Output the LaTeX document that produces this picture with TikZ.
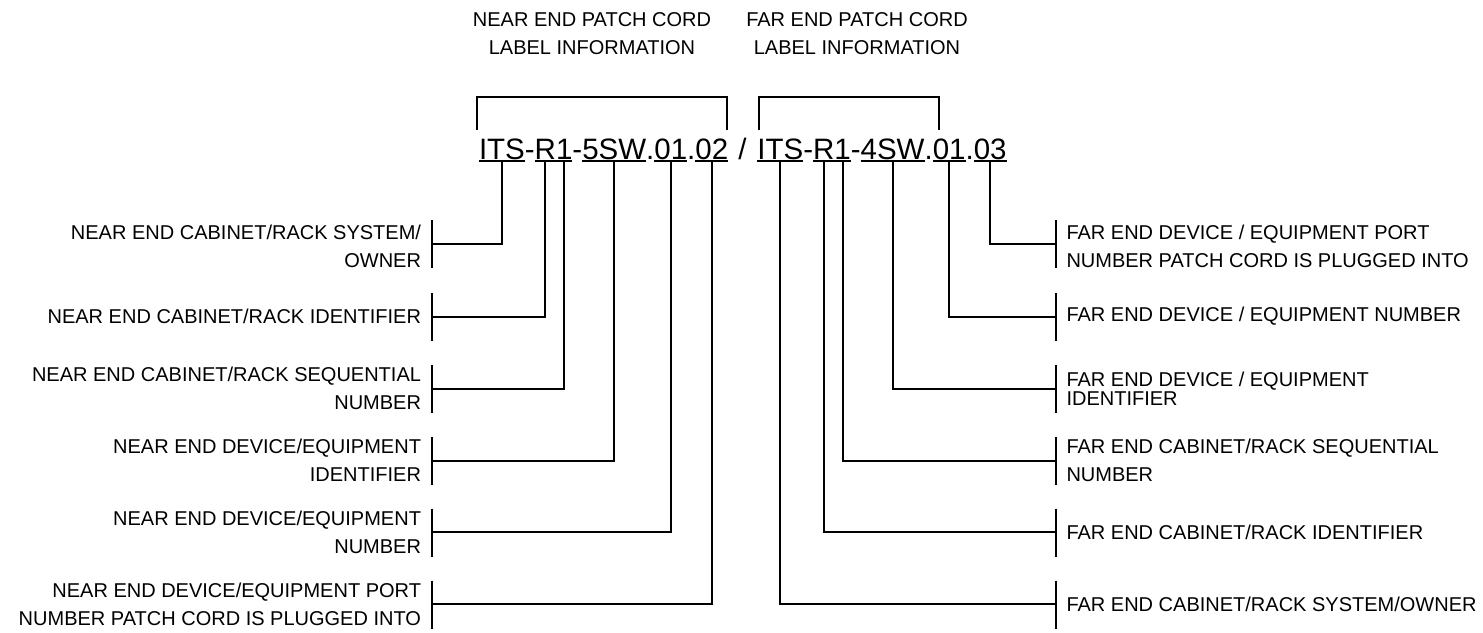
\documentclass[tikz,border=0pt]{standalone}
\usepackage{fontspec}
\setmainfont{Liberation Sans}
\newcommand\codefont{\fontsize{29.5}{35}\selectfont}
\newcommand\lblfont{\fontsize{20}{28}\selectfont}
\newcommand\tightfont{\fontsize{20}{19}\selectfont}
\begin{document}
\begin{tikzpicture}[x=1pt,y=-1pt,line width=2pt,
  seg/.style={inner sep=0pt,outer sep=0pt,anchor=base west,font=\codefont},
  lbl/.style={inner sep=0pt,outer sep=0pt,font=\lblfont,align=right,anchor=east},
  rlbl/.style={inner sep=0pt,outer sep=0pt,font=\lblfont,align=left,anchor=west},
  ttl/.style={inner sep=0pt,outer sep=0pt,font=\lblfont,align=center},
  wire/.style={line width=2pt},
  uline/.style={line width=2pt}]
\useasboundingbox (0,0) rectangle (1483,632);

% titles
\node[ttl] (t1) at (592,34) {NEAR END PATCH CORD\\LABEL INFORMATION};
\node[ttl] (t2) at (857,34) {FAR END PATCH CORD\\LABEL INFORMATION};

% near-end code
\node[seg] (a1) at (479,159) {ITS};
\node[seg] (a1d) at (a1.base east) {-};
\node[seg] (a2) at (a1d.base east) {R};
\node[seg] (a3) at (a2.base east) {1};
\node[seg] (a3d) at (a3.base east) {-};
\node[seg] (a4) at (a3d.base east) {5SW};
\node[seg] (a4d) at (a4.base east) {.};
\node[seg] (a5) at (a4d.base east) {01};
\node[seg] (a5d) at (a5.base east) {.};
\node[seg] (a6) at (a5d.base east) {02};

\node[font=\codefont,inner sep=0pt,anchor=base] (sl) at (742.5,159) {/};

% far-end code
\node[seg] (b1) at (757.4,159) {ITS};
\node[seg] (b1d) at (b1.base east) {-};
\node[seg] (b2) at (b1d.base east) {R};
\node[seg] (b3) at (b2.base east) {1};
\node[seg] (b3d) at (b3.base east) {-};
\node[seg] (b4) at (b3d.base east) {4SW};
\node[seg] (b4d) at (b4.base east) {.};
\node[seg] (b5) at (b4d.base east) {01};
\node[seg] (b5d) at (b5.base east) {.};
\node[seg] (b6) at (b5d.base east) {03};

\foreach \n in {a1,a2,a3,a4,a5,a6,b1,b2,b3,b4,b5,b6}
  \draw[uline] ([yshift=-2pt]\n.base west) -- ([yshift=-2pt]\n.base east);

% top brackets
\coordinate (tl1) at (477.3,130);
\coordinate (tl2) at (726.7,97.3);
\coordinate (tr1) at (759.3,130);
\coordinate (tr2) at (939.3,97.3);
\draw[wire] (tl1) |- (tl2) -- (tl2 |- tl1);
\draw[wire] (tr1) |- (tr2) -- (tr2 |- tr1);

% left labels
\node[lbl] (L1) at (421,246.5) {NEAR END CABINET/RACK SYSTEM/\\OWNER};
\node[lbl] (L2) at (421,316.5) {NEAR END CABINET/RACK IDENTIFIER};
\node[lbl] (L3) at (421,388.5) {NEAR END CABINET/RACK SEQUENTIAL\\NUMBER};
\node[lbl] (L4) at (421,460.5) {NEAR END DEVICE/EQUIPMENT\\IDENTIFIER};
\node[lbl] (L5) at (421,532) {NEAR END DEVICE/EQUIPMENT\\NUMBER};
\node[lbl] (L6) at (421,604) {NEAR END DEVICE/EQUIPMENT PORT\\NUMBER PATCH CORD IS PLUGGED INTO};

% right labels
\node[rlbl] (R1) at (1066.5,246.5) {FAR END DEVICE / EQUIPMENT PORT\\NUMBER PATCH CORD IS PLUGGED INTO};
\node[rlbl] (R2) at (1066.5,316.5) {FAR END DEVICE / EQUIPMENT NUMBER};
\node[rlbl,font=\tightfont] (R3) at (1066.5,388.5) {FAR END DEVICE / EQUIPMENT\\IDENTIFIER};
\node[rlbl] (R4) at (1066.5,460.5) {FAR END CABINET/RACK SEQUENTIAL\\NUMBER};
\node[rlbl] (R5) at (1066.5,532) {FAR END CABINET/RACK IDENTIFIER};
\node[rlbl] (R6) at (1066.5,604) {FAR END CABINET/RACK SYSTEM/OWNER};

% bracket points
\foreach \i/\y in {1/243.5,2/316.5,3/388.5,4/460.5,5/532,6/604}{
  \coordinate (pl\i) at (432,\y);
  \coordinate (pr\i) at (1056,\y);
  \draw[wire] ([yshift=23.5pt]pl\i) -- ([yshift=-24.5pt]pl\i);
  \draw[wire] ([yshift=23.5pt]pr\i) -- ([yshift=-24.5pt]pr\i);
}

% connectors near end
\foreach \n/\i in {a1/1,a2/2,a3/3,a4/4,a5/5,a6/6}
  \draw[wire] ([yshift=-2pt]\n.base) |- (pl\i);
% connectors far end
\foreach \n/\i in {b6/1,b5/2,b4/3,b3/4,b2/5,b1/6}
  \draw[wire] ([yshift=-2pt]\n.base) |- (pr\i);
\end{tikzpicture}
\end{document}
